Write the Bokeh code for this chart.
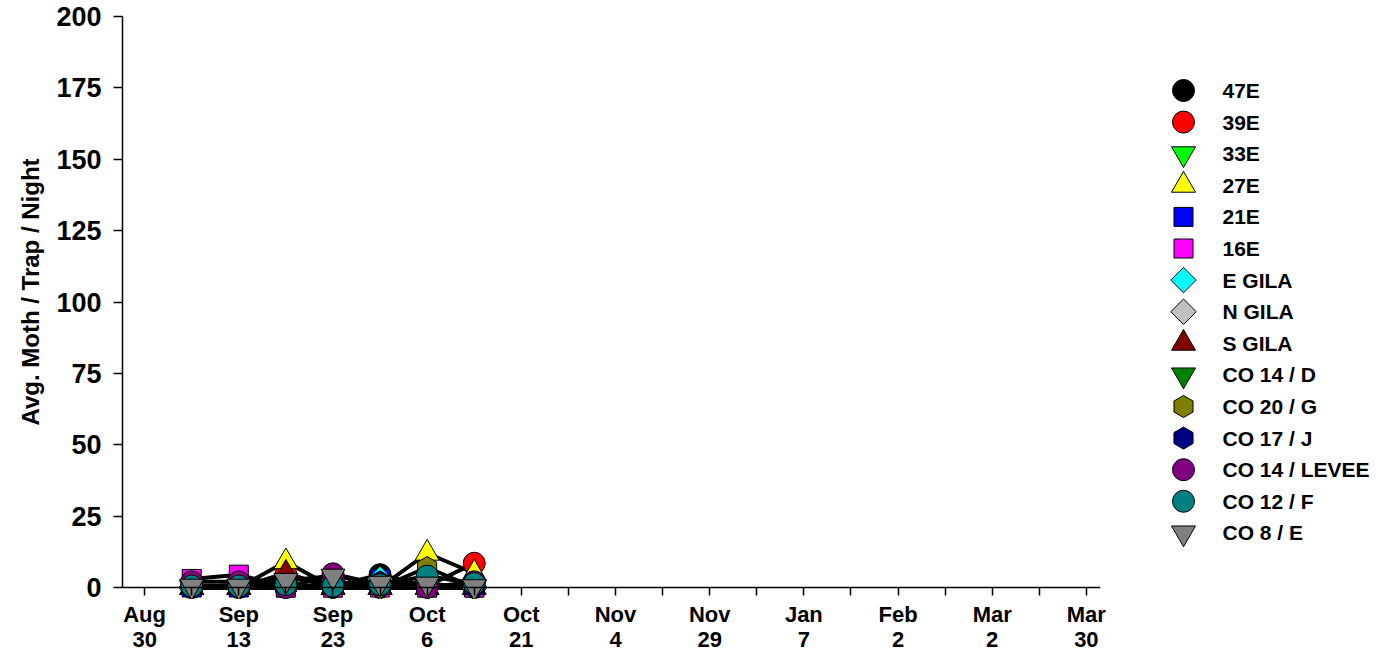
import math
from bokeh.plotting import figure
from bokeh.models import Range1d, FixedTicker, Span, Title
from bokeh.layouts import row
from bokeh.embed import file_html
from bokeh.resources import INLINE
from bokeh.core.properties import value

# ---------------- data ----------------
tick_labels = ["Aug\n30", "Sep\n13", "Sep\n23", "Oct\n6", "Oct\n21", "Nov\n4",
               "Nov\n29", "Jan\n7", "Feb\n2", "Mar\n2", "Mar\n30"]
sample_pos = [1, 2, 3, 4, 5, 6, 7]

series_names = ["47E", "39E", "33E", "27E", "21E", "16E", "E GILA", "N GILA", "S GILA",
                "CO 14 / D", "CO 20 / G", "CO 17 / J", "CO 14 / LEVEE", "CO 12 / F", "CO 8 / E"]
series_colors = ["#000000", "#FF0000", "#00FF00", "#FFFF00", "#0000FF", "#FF00FF", "#00FFFF",
                 "#C0C0C0", "#800000", "#008000", "#808000", "#000080", "#800080", "#008080",
                 "#808080"]
series_markers = ["circle", "circle", "inverted_triangle", "triangle", "square", "square",
                  "diamond", "diamond", "triangle", "inverted_triangle", "hex", "hex",
                  "circle", "circle", "inverted_triangle"]

v_47E = [0, 0, 0, 0.5, 4.5, 0.5, 0]
v_39E = [0, 0, 4.5, 0, 0, 0.5, 8.5]
v_33E = [0, 0, 0, 0, 0, 0, 0]
v_27E = [0, 0, 9, 0, 0, 12, 5]
v_21E = [0, 0, 0, 0, 3, 0, 0]
v_16E = [3, 4.5, 0, 0, 0, 0, 0]
v_EGILA = [0, 0, 0, 0, 3, 0, 0]
v_NGILA = [0, 0, 0, 0, 0, 0, 0]
v_SGILA = [0, 0, 5, 0, 0, 0, 0]
v_CO14D = [0, 0, 0, 0, 0, 0, 0]
v_CO20G = [0, 0, 0, 0, 0, 7, 0]
v_CO17J = [0, 1, 0, 0, 2, 0, 0]
v_CO14LEVEE = [2, 2, 0, 4.8, 1, 0, 2]
v_CO12F = [0.5, 0.5, 1, 0.5, 1, 4, 1.4]
v_CO8E = [0.5, 0.5, 2.5, 4, 1.5, 1.2, 0.3]

series_values = [v_47E, v_39E, v_33E, v_27E, v_21E, v_16E, v_EGILA, v_NGILA, v_SGILA,
                 v_CO14D, v_CO20G, v_CO17J, v_CO14LEVEE, v_CO12F, v_CO8E]

y_title = "Avg. Moth / Trap / Night"

FONT = "Liberation Sans"

def marker_angle(m):
    if m == "diamond":
        return math.pi / 4
    if m == "hex":
        return math.pi / 6
    return 0.0

def marker_shape(m):
    return "square" if m == "diamond" else m

def marker_size(m):
    return {"circle": 22, "square": 19, "diamond": 18, "triangle": 24,
            "inverted_triangle": 24, "hex": 22}[m]

# page-pixel layout of the plot frame
FRAME_TOP = 16
FRAME_BOTTOM = 598
FIG_H = 654
MAIN_W = 1150

# ---------------- main chart ----------------
p = figure(width=MAIN_W, height=FIG_H, output_backend="svg", toolbar_location=None,
           x_range=Range1d(-0.47, 20.3), y_range=Range1d(-3.85, 200),
           min_border_left=122, min_border_right=50, min_border_top=FRAME_TOP,
           min_border_bottom=FIG_H - FRAME_BOTTOM)
p.outline_line_color = None
p.xgrid.visible = False
p.ygrid.visible = False
p.background_fill_color = "white"
p.border_fill_color = "white"

# y axis
ya = p.yaxis[0]
ya.ticker = FixedTicker(ticks=list(range(0, 201, 25)))
ya.bounds = (0, 200)
ya.minor_tick_line_color = None
ya.major_tick_out = 9
ya.major_tick_in = 0
ya.axis_line_width = 1.5
ya.major_tick_line_width = 1.5
ya.major_label_text_font = FONT
ya.major_label_text_font_style = "bold"
ya.major_label_text_font_size = "27px"
ya.major_label_text_color = "black"
ya.major_label_standoff = 12

p.add_layout(Title(text=y_title, align="left", offset=173, text_font=FONT,
                   text_font_style="bold", text_font_size="24px", text_color="black",
                   standoff=19), "left")

# x axis (line drawn at y = 0 with a Span)
xa = p.xaxis[0]
major = list(range(0, 21))
xa.ticker = FixedTicker(ticks=major)
overrides = {}
for i in major:
    overrides[i] = tick_labels[i // 2] if i % 2 == 0 else ""
xa.major_label_overrides = overrides
xa.minor_tick_line_color = None
xa.axis_line_color = None
xa.major_tick_in = 11
xa.major_tick_out = -3
xa.major_tick_line_width = 1.5
xa.major_label_text_font = FONT
xa.major_label_text_font_style = "bold"
xa.major_label_text_font_size = "22px"
xa.major_label_text_line_height = 1.0
xa.major_label_text_color = "black"
xa.major_label_standoff = 3

p.add_layout(Span(location=0, dimension="width", line_color="black", line_width=1.5))

for vals in series_values:
    p.line(sample_pos, vals, line_color="black", line_width=4)

for name, col, mk, vals in zip(series_names, series_colors, series_markers, series_values):
    p.scatter(sample_pos, vals, marker=marker_shape(mk), size=marker_size(mk),
              angle=marker_angle(mk), fill_color=col, line_color="black", line_width=1)

# ---------------- legend panel (ranges in page pixels) ----------------
lg = figure(width=1390 - MAIN_W, height=FIG_H, output_backend="svg", toolbar_location=None,
            x_range=Range1d(MAIN_W, 1390), y_range=Range1d(FRAME_BOTTOM, FRAME_TOP),
            x_axis_location=None, y_axis_location=None,
            min_border_left=0, min_border_right=0,
            min_border_top=FRAME_TOP, min_border_bottom=FIG_H - FRAME_BOTTOM)
lg.outline_line_color = None
lg.xgrid.visible = False
lg.ygrid.visible = False

for i, (name, col, mk) in enumerate(zip(series_names, series_colors, series_markers)):
    yy = 90 + 31.6 * i
    lg.scatter([1183], [yy], marker=marker_shape(mk), size=marker_size(mk),
               angle=marker_angle(mk), fill_color=col, line_color="black", line_width=1)
    lg.text([1222], [yy], text=[name], text_font=value(FONT), text_font_style="bold",
            text_font_size="21px", text_baseline="middle", text_align="left",
            text_color="black")

layout = row(p, lg)
open("out.html", "w").write(file_html(layout, INLINE))
